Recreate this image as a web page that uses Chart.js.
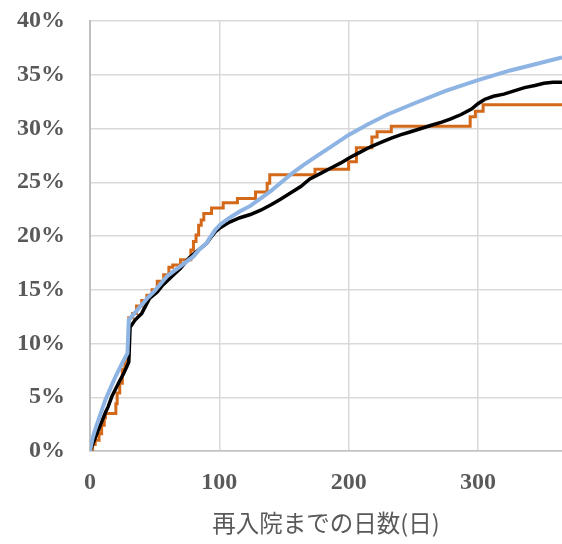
<!DOCTYPE html>
<html>
<head>
<meta charset="utf-8">
<script src="https://cdn.jsdelivr.net/npm/chart.js@4.4.1/dist/chart.umd.min.js"></script>
<style>
    html, body { margin: 0; padding: 0; background: #fff; }
    #wrap { width: 562px; height: 544px; }
</style>
</head>
<body>
<div id="wrap"><canvas id="readmitChart"></canvas></div>
<script>
// 予測(滑らか)
const predDays = [0, 2, 4, 8, 12, 16, 20, 25, 29, 30, 35, 40, 45, 50, 55, 60, 70, 80, 85, 90, 93, 97, 101, 108, 116, 124, 132, 140, 148, 156, 165, 175, 185, 200, 215, 230, 250, 275, 300, 325, 345, 365];
const predRate = [0, 1.2, 2.0, 3.4, 4.8, 5.9, 7.0, 8.2, 9.1, 12.2, 12.9, 13.6, 14.3, 14.9, 15.6, 16.3, 17.2, 18.1, 18.8, 19.3, 19.9, 20.6, 21.1, 21.7, 22.3, 22.8, 23.5, 24.2, 25.0, 25.8, 26.6, 27.4, 28.2, 29.4, 30.4, 31.3, 32.3, 33.5, 34.5, 35.4, 36.0, 36.6];

// 全体(黒)
const allDays = [0, 2, 4, 8, 12, 14, 17, 22, 26, 29, 30, 31, 35, 40, 46, 52, 56, 62, 70, 77, 85, 90, 93, 97, 101, 108, 116, 124, 132, 140, 147, 155, 163, 170, 178, 186, 194, 201, 209, 217, 225, 233, 240, 248, 256, 264, 272, 279, 287, 295, 300, 305, 312, 320, 328, 336, 344, 351, 358, 365];
const allRate = [0, 0.6, 1.2, 2.4, 3.6, 4.1, 5.1, 6.3, 7.2, 8.0, 8.3, 11.5, 12.2, 12.8, 14.2, 14.8, 15.4, 16.1, 17.0, 18.0, 18.8, 19.3, 19.8, 20.4, 20.8, 21.3, 21.7, 22.0, 22.4, 22.9, 23.4, 24.0, 24.6, 25.3, 25.8, 26.3, 26.8, 27.3, 27.8, 28.3, 28.7, 29.1, 29.4, 29.7, 30.0, 30.3, 30.6, 30.9, 31.3, 31.8, 32.3, 32.7, 33.0, 33.2, 33.5, 33.8, 34.0, 34.2, 34.3, 34.3];

// 対象群(オレンジ, 階段状)
const grpDays = [0, 2, 4, 7, 9, 11, 12, 20, 21, 23, 25, 27, 29, 30, 33, 36, 40, 44, 48, 52, 57, 61, 64, 70, 78, 80, 82, 84, 86, 88, 94, 103, 114, 128, 137, 139, 174, 200, 206, 218, 222, 233, 294, 298, 304, 365];
const grpRate = [0, 0.6, 1.0, 1.6, 2.4, 3.1, 3.5, 4.4, 5.4, 6.3, 7.6, 8.4, 9.0, 12.4, 12.8, 13.5, 14.0, 14.5, 15.0, 15.8, 16.4, 17.1, 17.3, 17.8, 18.7, 19.5, 20.1, 21.0, 21.5, 22.1, 22.6, 23.1, 23.5, 24.1, 24.9, 25.7, 26.2, 26.9, 28.2, 29.2, 29.7, 30.2, 31.1, 31.6, 32.2, 32.2];

const xTicks = [0, 100, 200, 300];
const xTitle = "再入院までの日数(日)";

const toXY = (xs, ys) => xs.map((x, i) => ({ x: x, y: ys[i] }));

const tickColor = "#595959";
const gridColor = "#D9D9D9";
const tickFont = { family: "Liberation Serif", weight: "bold", size: 24 };

new Chart(document.getElementById("readmitChart"), {
    type: "line",
    data: {
        datasets: [
            {
                data: toXY(predDays, predRate),
                borderColor: "#8EB4E3",
                borderWidth: 4,
                pointRadius: 0,
                tension: 0,
            },
            {
                data: toXY(allDays, allRate),
                borderColor: "#000000",
                borderWidth: 3.5,
                pointRadius: 0,
                tension: 0,
            },
            {
                data: toXY(grpDays, grpRate),
                borderColor: "#D4691A",
                borderWidth: 3,
                pointRadius: 0,
                stepped: "before",
            },
        ],
    },
    options: {
        responsive: true,
        maintainAspectRatio: false,
        animation: false,
        layout: { padding: { top: 21, left: 0, right: 0, bottom: 0 } },
        plugins: {
            legend: { display: false },
            tooltip: { enabled: false },
        },
        scales: {
            x: {
                type: "linear",
                min: 0,
                max: 365,
                afterBuildTicks: (scale) => {
                    scale.ticks = xTicks.map((v) => ({ value: v }));
                },
                afterFit: (scale) => {
                    scale.height = 93;
                    scale.paddingLeft = 0;
                    scale.paddingRight = 0;
                },
                grid: { color: gridColor, lineWidth: 1.5, drawTicks: false },
                border: { color: "#BFBFBF", width: 1.5 },
                ticks: {
                    padding: 17,
                    color: tickColor,
                    font: tickFont,
                },
                title: {
                    display: true,
                    text: xTitle,
                    color: tickColor,
                    padding: { top: 0, bottom: 7 },
                    font: { family: "Noto Sans CJK JP", size: 23.5 },
                },
            },
            y: {
                min: 0,
                max: 40,
                afterFit: (scale) => {
                    scale.width = 90;
                    scale.paddingTop = 0;
                    scale.paddingBottom = 0;
                },
                grid: { color: gridColor, lineWidth: 1.5, drawTicks: false },
                border: { color: "#BFBFBF", width: 2 },
                ticks: {
                    stepSize: 5,
                    padding: 25,
                    color: tickColor,
                    font: tickFont,
                    callback: (v) => v + "%",
                },
            },
        },
    },
});
</script>
</body>
</html>
